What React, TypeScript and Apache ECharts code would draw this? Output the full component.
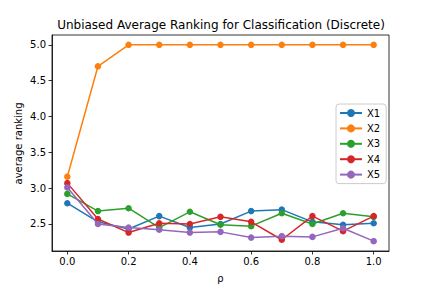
import React, { useEffect, useRef } from "react";
import * as echarts from "echarts";

const rho = [0.0, 0.1, 0.2, 0.3, 0.4, 0.5, 0.6, 0.7, 0.8, 0.9, 1.0];
const x1 = [2.79, 2.53, 2.43, 2.61, 2.45, 2.5, 2.68, 2.7, 2.53, 2.49, 2.51];
const x2 = [3.16, 4.7, 5.0, 5.0, 5.0, 5.0, 5.0, 5.0, 5.0, 5.0, 5.0];
const x3 = [2.92, 2.68, 2.72, 2.45, 2.67, 2.49, 2.47, 2.65, 2.5, 2.65, 2.6];
const x4 = [3.07, 2.57, 2.38, 2.51, 2.5, 2.6, 2.53, 2.28, 2.61, 2.4, 2.61];
const x5 = [3.01, 2.5, 2.45, 2.42, 2.38, 2.39, 2.31, 2.33, 2.32, 2.44, 2.26];
const seriesNames = ["X1", "X2", "X3", "X4", "X5"];
const seriesValues = [x1, x2, x3, x4, x5];
const colors = ["#1f77b4", "#ff7f0e", "#2ca02c", "#d62728", "#9467bd"];
const xTicks = [0.0, 0.2, 0.4, 0.6, 0.8, 1.0];
const yTicks = [2.5, 3.0, 3.5, 4.0, 4.5, 5.0];
const titleText = "Unbiased Average Ranking for Classification (Discrete)";

export default function App() {
  const ref = useRef<HTMLDivElement>(null);
  useEffect(() => {
    const chart = echarts.init(ref.current!, null, { renderer: "svg" });
    const font = "DejaVu Sans";
    chart.setOption({
      animation: false,
      textStyle: { fontFamily: font },
      graphic: [
        {
          type: "text",
          x: 221,
          y: 24.5,
          style: {
            text: titleText,
            fontFamily: font,
            fontSize: 12,
            fill: "#000",
            align: "center",
            verticalAlign: "middle",
          },
        },
        {
          type: "text",
          x: 18.5,
          y: 143.5,
          rotation: Math.PI / 2,
          style: {
            text: "average ranking",
            fontFamily: font,
            fontSize: 10,
            fill: "#000",
            align: "center",
            verticalAlign: "middle",
          },
        },
      ],
      grid: {
        left: 52,
        right: 43,
        top: 35,
        bottom: 36,
        show: true,
        borderColor: "#000",
        borderWidth: 0.8,
        backgroundColor: "transparent",
      },
      legend: {
        orient: "vertical",
        left: 336,
        top: 104,
        data: seriesNames,
        itemWidth: 22,
        itemHeight: 10,
        itemGap: 5.4,
        padding: [4, 6, 4, 3],
        backgroundColor: "rgba(255,255,255,0.8)",
        borderColor: "#ccc",
        borderWidth: 1,
        borderRadius: 3,
        textStyle: { fontFamily: font, fontSize: 10, color: "#000", lineHeight: 10 },
      },
      xAxis: {
        type: "value",
        min: -0.05,
        max: 1.05,
        name: "ρ",
        nameLocation: "middle",
        nameGap: 22,
        nameTextStyle: { fontFamily: font, fontSize: 10, color: "#000" },
        splitLine: { show: false },
        axisLine: { show: true, onZero: false, lineStyle: { color: "#000", width: 0.8 } },
        axisTick: { show: true, length: 3.5, customValues: xTicks, lineStyle: { color: "#000", width: 0.8 } },
        axisLabel: {
          customValues: xTicks,
          formatter: (v: number) => v.toFixed(1),
          fontFamily: font,
          fontSize: 10,
          color: "#000",
          margin: 5,
        },
      },
      yAxis: {
        type: "value",
        min: 2.123,
        max: 5.137,
        splitLine: { show: false },
        axisLine: { show: true, onZero: false, lineStyle: { color: "#000", width: 0.8 } },
        axisTick: { show: true, length: 3.5, customValues: yTicks, lineStyle: { color: "#000", width: 0.8 } },
        axisLabel: {
          customValues: yTicks,
          formatter: (v: number) => v.toFixed(1),
          fontFamily: font,
          fontSize: 10,
          color: "#000",
          margin: 6,
        },
      },
      series: seriesNames.map((name, i) => ({
        name,
        type: "line",
        data: rho.map((r, j) => [r, seriesValues[i][j]]),
        symbol: "circle",
        symbolSize: 6.5,
        showSymbol: true,
        color: colors[i],
        lineStyle: { width: 1.5, color: colors[i] },
        itemStyle: { color: colors[i] },
        z: 2 + i,
      })),
    });
    return () => chart.dispose();
  }, []);
  return (
    <div
      ref={ref}
      style={{ position: "absolute", left: 0, top: 0, width: 432, height: 288 }}
    />
  );
}
